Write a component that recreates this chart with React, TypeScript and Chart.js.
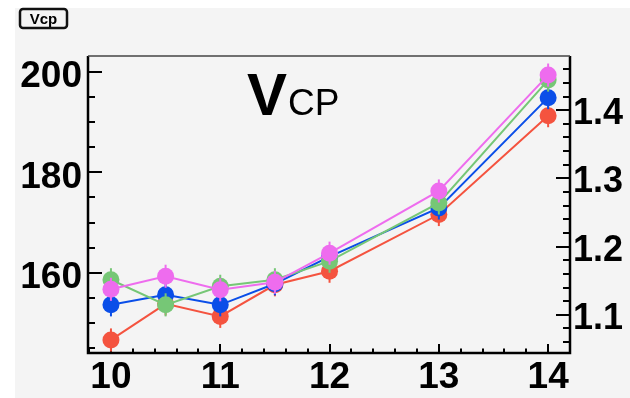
import React, { useEffect, useRef } from "react";
import { Chart, registerables } from "chart.js";

Chart.register(...registerables);

const xValues = [10, 10.5, 11, 11.5, 12, 13, 14];
const redValues = [146.6, 153.8, 151.3, 157.6, 160.3, 171.6, 191.3];
const blueValues = [153.6, 155.6, 153.6, 157.8, 163.2, 172.9, 194.9];
const greenValues = [158.6, 153.6, 157.3, 158.6, 162.3, 173.9, 198.4];
const magentaValues = [156.7, 159.3, 156.6, 158.1, 163.9, 176.3, 199.4];
const errValues = [2.3, 2.3, 2.3, 2.3, 2.3, 2.3, 2.3];

const xTickValues = [10, 11, 12, 13, 14];
const leftTickValues = [160, 180, 200];
const rightTickValues = [1.1, 1.2, 1.3, 1.4];

const FONT = "'Liberation Sans', Arial, Helvetica, sans-serif";

export default function App() {
  const ref = useRef<HTMLCanvasElement>(null);

  useEffect(() => {
    const canvas = ref.current!;
    const mk = (label: string, values: number[], color: string, order: number) => ({
      label,
      data: xValues.map((x, i) => ({ x, y: values[i] })),
      borderColor: color,
      backgroundColor: color,
      pointBackgroundColor: color,
      pointBorderColor: color,
      pointRadius: 8.5,
      pointHoverRadius: 8.5,
      pointBorderWidth: 0,
      borderWidth: 2,
      tension: 0,
      order,
      xAxisID: "x",
      yAxisID: "y",
    });

    const bgPlugin = {
      id: "bg",
      beforeDraw(chart: any) {
        const ctx = chart.ctx;
        ctx.save();
        ctx.fillStyle = "#ffffff";
        ctx.fillRect(0, 0, chart.width, chart.height);
        ctx.fillStyle = "#f4f4f4";
        ctx.fillRect(15, 8, chart.width - 15, chart.height - 8);
        ctx.restore();
      },
    };

    const framePlugin = {
      id: "frame",
      beforeDatasetsDraw(chart: any) {
        const ctx = chart.ctx;
        const a = chart.chartArea;
        const xs = chart.scales.x;
        const ys = chart.scales.y;
        const y1 = chart.scales.y1;
        ctx.save();
        ctx.strokeStyle = "#000";
        ctx.lineWidth = 2;
        for (let v = 9.8; v <= 14.2001; v += 0.2) {
          const px = Math.round(xs.getPixelForValue(v));
          const major = Math.abs(v - Math.round(v)) < 1e-6;
          const len = major ? 9 : 4.5;
          ctx.beginPath();
          ctx.moveTo(px, a.bottom);
          ctx.lineTo(px, a.bottom - len);
          ctx.stroke();
        }
        for (let v = 145; v <= 203; v += 5) {
          const py = Math.round(ys.getPixelForValue(v));
          const major = v % 20 === 0;
          const len = major ? 14 : 7;
          ctx.beginPath();
          ctx.moveTo(a.left, py);
          ctx.lineTo(a.left + len, py);
          ctx.stroke();
        }
        for (let k = 53; k <= 73; k++) {
          const v = k * 0.02;
          const py = Math.round(y1.getPixelForValue(v));
          const major = k % 5 === 0;
          const len = major ? 14 : 7;
          ctx.beginPath();
          ctx.moveTo(a.right, py);
          ctx.lineTo(a.right - len, py);
          ctx.stroke();
        }
        ctx.lineWidth = 2.5;
        ctx.beginPath();
        ctx.moveTo(a.left, a.top);
        ctx.lineTo(a.left, a.bottom);
        ctx.lineTo(a.right, a.bottom);
        ctx.lineTo(a.right, a.top);
        ctx.stroke();
        ctx.lineWidth = 1.5;
        ctx.strokeStyle = "#444";
        ctx.beginPath();
        ctx.moveTo(a.left, a.top);
        ctx.lineTo(a.right, a.top);
        ctx.stroke();
        ctx.restore();
      },
    };

    const errPlugin = {
      id: "err",
      beforeDatasetDraw(chart: any, args: any) {
        const meta = args.meta;
        const ds: any = chart.data.datasets[args.index];
        const ys = chart.scales.y;
        const ctx = chart.ctx;
        ctx.save();
        ctx.strokeStyle = ds.borderColor;
        ctx.lineWidth = 2;
        meta.data.forEach((pt: any, i: number) => {
          const v = ds.data[i].y;
          const e = errValues[i];
          ctx.beginPath();
          ctx.moveTo(pt.x, ys.getPixelForValue(v + e));
          ctx.lineTo(pt.x, ys.getPixelForValue(v - e));
          ctx.stroke();
        });
        ctx.restore();
      },
    };

    const textPlugin = {
      id: "texts",
      afterDraw(chart: any) {
        const ctx = chart.ctx;
        ctx.save();
        ctx.fillStyle = "#000";
        ctx.textBaseline = "alphabetic";
        ctx.textAlign = "left";
        ctx.font = `bold 60px ${FONT}`;
        ctx.fillText("V", 247, 115);
        ctx.font = `37px ${FONT}`;
        ctx.fillText("CP", 288, 115);
        ctx.strokeStyle = "#111";
        ctx.lineWidth = 2.5;
        const bx = 20, by = 9, bw = 47, bh = 19;
        ctx.beginPath();
        (ctx as any).roundRect(bx, by, bw, bh, 3);
        ctx.stroke();
        ctx.font = `bold 15px ${FONT}`;
        ctx.textAlign = "center";
        ctx.textBaseline = "middle";
        ctx.fillText("Vcp", bx + bw / 2, by + bh / 2 + 1);
        ctx.restore();
      },
    };

    const tickFont = { family: FONT, weight: "bold" as const, size: 37 };

    const chart = new Chart(canvas, {
      type: "line",
      data: {
        datasets: [
          mk("red", redValues, "#f4533f", 4),
          mk("blue", blueValues, "#0a4ee8", 3),
          mk("green", greenValues, "#76c776", 2),
          mk("magenta", magentaValues, "#ee6cee", 1),
        ] as any,
      },
      options: {
        animation: false,
        responsive: false,
        devicePixelRatio: 1,
        layout: { padding: { top: 56, left: 0, right: 0, bottom: 0 } },
        plugins: { legend: { display: false }, tooltip: { enabled: false }, title: { display: false } },
        events: [],
        scales: {
          x: {
            type: "linear",
            position: "bottom",
            min: 9.79,
            max: 14.2,
            grid: { display: false, drawTicks: false },
            border: { display: false },
            afterBuildTicks: (s: any) => {
              s.ticks = xTickValues.map((v) => ({ value: v }));
            },
            afterFit: (s: any) => {
              s.height = 45;
            },
            ticks: {
              font: tickFont,
              color: "#000",
              padding: 3,
              autoSkip: false,
              maxRotation: 0,
              callback: (v: any) => String(v),
            },
          },
          y: {
            type: "linear",
            position: "left",
            min: 144,
            max: 203.2,
            grid: { display: false, drawTicks: false },
            border: { display: false },
            afterBuildTicks: (s: any) => {
              s.ticks = leftTickValues.map((v) => ({ value: v }));
            },
            afterFit: (s: any) => {
              s.width = 88;
            },
            ticks: {
              font: tickFont,
              color: "#000",
              padding: 6,
              labelOffset: 5,
              autoSkip: false,
              callback: (v: any) => String(v),
            },
          },
          y1: {
            type: "linear",
            position: "right",
            min: 1.044,
            max: 1.4794,
            grid: { display: false, drawTicks: false },
            border: { display: false },
            afterBuildTicks: (s: any) => {
              s.ticks = rightTickValues.map((v) => ({ value: v }));
            },
            afterFit: (s: any) => {
              s.width = 60;
            },
            ticks: {
              font: { family: FONT, weight: "bold" as const, size: 36 },
              color: "#000",
              padding: 3,
              labelOffset: 4,
              autoSkip: false,
              callback: (v: any) => String(v),
            },
          },
        },
      } as any,
      plugins: [bgPlugin, framePlugin, errPlugin, textPlugin],
    });

    return () => chart.destroy();
  }, []);

  return (
    <div style={{ position: "fixed", left: 0, top: 0, width: 630, height: 398 }}>
      <canvas ref={ref} width={630} height={398} style={{ display: "block", width: 630, height: 398 }} />
    </div>
  );
}
